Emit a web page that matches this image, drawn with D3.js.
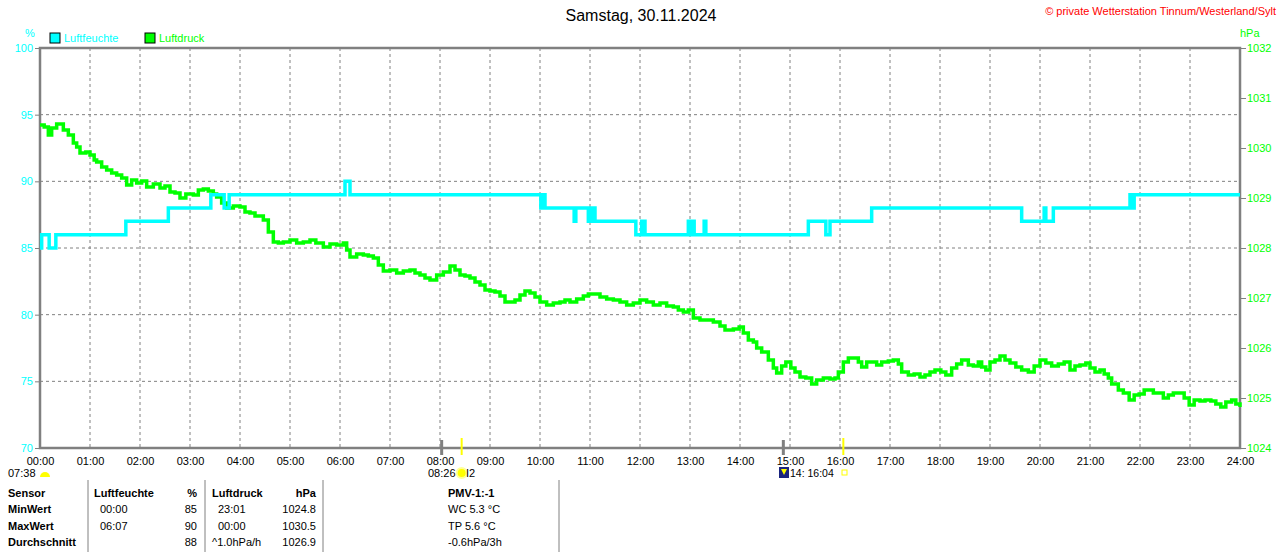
<!DOCTYPE html>
<html>
<head>
<meta charset="utf-8">
<script src="https://cdn.jsdelivr.net/npm/d3@7"></script>
<style>
    body { margin: 0; background: #fff; }
    text { font-family: "Liberation Sans", Arial, sans-serif; }
</style>
</head>
<body>
<svg id="chart" width="1280" height="552"></svg>
<script>

// Zeitachse in Minuten seit Mitternacht
var hourLabels = ["00:00", "01:00", "02:00", "03:00", "04:00", "05:00", "06:00", "07:00", "08:00",
    "09:00", "10:00", "11:00", "12:00", "13:00", "14:00", "15:00", "16:00", "17:00", "18:00",
    "19:00", "20:00", "21:00", "22:00", "23:00", "24:00"];
var humTicks = [70, 75, 80, 85, 90, 95, 100];
var presTicks = [1024, 1025, 1026, 1027, 1028, 1029, 1030, 1031, 1032];

// Luftfeuchte: Stufenwechsel [Minute, %]
var luftfeuchte = [[0, 85], [2, 86], [11, 85], [19, 86], [103, 87], [154, 88], [205, 89], [221, 88],
    [227, 89], [366, 90], [372, 89], [601, 88], [604, 89], [606, 88], [641, 87], [643, 88],
    [658, 87], [660, 88], [662, 87], [664, 88], [666, 87], [715, 86], [722, 87], [726, 86],
    [778, 87], [780, 86], [782, 87], [785, 86], [797, 87], [799, 86], [922, 87], [943, 86],
    [948, 87], [998, 88], [1178, 87], [1205, 88], [1207, 87], [1216, 88], [1308, 89], [1310, 88],
    [1313, 89], [1440, 89]];

// Luftdruck [Minute, hPa]
var luftdruck = [[0, 1030.46], [5, 1030.42], [10, 1030.26], [14, 1030.4], [20, 1030.48], [28, 1030.36],
    [34, 1030.26], [40, 1030.1], [44, 1030.02], [48, 1029.9], [55, 1029.92], [60, 1029.86], [65, 1029.76],
    [68, 1029.72], [74, 1029.62], [80, 1029.56], [86, 1029.5], [92, 1029.46], [98, 1029.4], [104, 1029.26],
    [110, 1029.36], [116, 1029.3], [122, 1029.34], [128, 1029.22], [136, 1029.28], [144, 1029.2],
    [150, 1029.24], [156, 1029.12], [162, 1029.1], [168, 1029.0], [175, 1029.08], [184, 1029.06],
    [190, 1029.16], [196, 1029.18], [202, 1029.14], [208, 1029.08], [212, 1029.02], [218, 1028.9],
    [224, 1028.8], [232, 1028.84], [240, 1028.82], [246, 1028.72], [252, 1028.7], [258, 1028.64],
    [268, 1028.56], [274, 1028.32], [280, 1028.12], [286, 1028.1], [292, 1028.12], [300, 1028.16],
    [308, 1028.1], [316, 1028.12], [324, 1028.16], [331, 1028.1], [340, 1028.02], [348, 1028.08],
    [356, 1028.06], [364, 1028.1], [368, 1027.96], [372, 1027.82], [380, 1027.88], [388, 1027.86],
    [394, 1027.84], [400, 1027.8], [406, 1027.66], [412, 1027.54], [420, 1027.56], [428, 1027.5],
    [436, 1027.54], [444, 1027.56], [450, 1027.5], [456, 1027.46], [462, 1027.4], [468, 1027.36],
    [476, 1027.46], [484, 1027.52], [492, 1027.64], [498, 1027.56], [504, 1027.46], [510, 1027.44],
    [516, 1027.4], [522, 1027.32], [528, 1027.26], [534, 1027.16], [540, 1027.14], [546, 1027.12],
    [552, 1027.04], [558, 1026.92], [564, 1026.92], [570, 1026.96], [576, 1027.06], [582, 1027.14],
    [588, 1027.1], [594, 1027.02], [600, 1026.92], [608, 1026.86], [616, 1026.9], [624, 1026.92],
    [630, 1026.96], [636, 1026.92], [644, 1026.98], [652, 1027.04], [658, 1027.08], [664, 1027.08],
    [672, 1027.02], [680, 1026.98], [688, 1026.96], [696, 1026.92], [704, 1026.86], [712, 1026.9],
    [720, 1026.96], [728, 1026.92], [736, 1026.86], [744, 1026.9], [752, 1026.84], [760, 1026.82],
    [766, 1026.76], [772, 1026.72], [778, 1026.76], [784, 1026.6], [792, 1026.56], [800, 1026.56],
    [808, 1026.52], [816, 1026.44], [822, 1026.36], [832, 1026.38], [839, 1026.42], [844, 1026.3],
    [850, 1026.16], [856, 1026.12], [860, 1026.0], [866, 1025.92], [874, 1025.76], [880, 1025.6],
    [884, 1025.5], [890, 1025.64], [895, 1025.72], [901, 1025.6], [906, 1025.52], [912, 1025.42],
    [919, 1025.4], [926, 1025.28], [932, 1025.36], [940, 1025.4], [948, 1025.38], [954, 1025.4],
    [958, 1025.52], [964, 1025.72], [970, 1025.8], [977, 1025.8], [982, 1025.72], [986, 1025.62],
    [992, 1025.72], [998, 1025.72], [1004, 1025.66], [1010, 1025.72], [1018, 1025.74], [1024, 1025.76],
    [1030, 1025.68], [1034, 1025.52], [1042, 1025.46], [1049, 1025.48], [1056, 1025.42], [1062, 1025.46],
    [1068, 1025.52], [1074, 1025.56], [1081, 1025.52], [1087, 1025.46], [1094, 1025.6], [1100, 1025.68],
    [1106, 1025.76], [1114, 1025.66], [1120, 1025.64], [1126, 1025.72], [1130, 1025.62], [1135, 1025.56],
    [1140, 1025.72], [1146, 1025.76], [1152, 1025.84], [1158, 1025.76], [1164, 1025.7], [1171, 1025.62],
    [1178, 1025.56], [1186, 1025.52], [1193, 1025.64], [1200, 1025.76], [1207, 1025.7], [1214, 1025.64],
    [1222, 1025.68], [1229, 1025.72], [1236, 1025.56], [1242, 1025.64], [1248, 1025.66], [1255, 1025.7],
    [1260, 1025.6], [1266, 1025.52], [1272, 1025.56], [1277, 1025.48], [1282, 1025.4], [1286, 1025.28],
    [1294, 1025.16], [1300, 1025.1], [1307, 1024.96], [1313, 1025.06], [1319, 1025.08], [1325, 1025.16],
    [1330, 1025.16], [1336, 1025.1], [1342, 1025.1], [1348, 1025.0], [1354, 1025.06], [1360, 1025.1],
    [1367, 1025.1], [1373, 1025.0], [1379, 1024.86], [1385, 1024.96], [1392, 1024.94], [1398, 1024.96],
    [1405, 1024.94], [1411, 1024.88], [1417, 1024.82], [1423, 1024.92], [1430, 1024.96], [1435, 1024.88],
    [1440, 1024.82]];

// Sonnen-/Mondzeiten unter der Achse [Minute]
var sunMarks = [506, 964];
var moonMarks = [482, 892];

// Tabelle unten
var tableHeader = ["Sensor", "Luftfeuchte", "%", "Luftdruck", "hPa"];
var rowLabels = ["MinWert", "MaxWert", "Durchschnitt"];
var humTimes = ["00:00", "06:07", ""];
var humValues = ["85", "90", "88"];
var presTimes = ["23:01", "00:00", "^1.0hPa/h"];
var presValues = ["1024.8", "1030.5", "1026.9"];
var pmvLines = ["WC 5.3 °C", "TP 5.6 °C", "-0.6hPa/3h"];

var cyan = "#00ffff", green = "#00ff00", grey = "#808080";

var svg = d3.select("#chart");

var x = d3.scaleLinear().domain([0, 1440]).range([40, 1240]);
var yHum = d3.scaleLinear().domain([70, 100]).range([448, 48]);
var yPres = d3.scaleLinear().domain([1024, 1032]).range([448, 48]);

// Gitter
svg.append("g")
    .selectAll("line")
    .data(hourLabels.slice(1, -1))
    .join("line")
    .attr("x1", function (d, i) { return x((i + 1) * 60); })
    .attr("x2", function (d, i) { return x((i + 1) * 60); })
    .attr("y1", yHum(100))
    .attr("y2", yHum(70))
    .attr("stroke", grey)
    .attr("stroke-dasharray", "3,3");

svg.append("g")
    .selectAll("line")
    .data(humTicks.slice(1, -1))
    .join("line")
    .attr("x1", x(0))
    .attr("x2", x(1440))
    .attr("y1", function (d) { return yHum(d); })
    .attr("y2", function (d) { return yHum(d); })
    .attr("stroke", grey)
    .attr("stroke-dasharray", "3,3");

// Rahmen
svg.append("rect")
    .attr("x", x(0))
    .attr("y", yHum(100))
    .attr("width", x(1440) - x(0))
    .attr("height", yHum(70) - yHum(100))
    .attr("fill", "none")
    .attr("stroke", grey)
    .attr("stroke-width", 2.5);

// Achsen
var leftAxis = svg.append("g")
    .attr("transform", "translate(" + x(0) + ",0)")
    .call(d3.axisLeft(yHum).tickValues(humTicks).tickSize(5).tickPadding(2));

var rightAxis = svg.append("g")
    .attr("transform", "translate(" + x(1440) + ",0)")
    .call(d3.axisRight(yPres).tickValues(presTicks).tickFormat(d3.format("d")).tickSize(6).tickPadding(1));

var bottomAxis = svg.append("g")
    .attr("transform", "translate(0," + yHum(70) + ")")
    .call(d3.axisBottom(x)
        .tickValues(d3.range(hourLabels.length).map(function (i) { return i * 60; }))
        .tickFormat(function (d, i) { return hourLabels[i]; })
        .tickSize(0)
        .tickPadding(9));

[leftAxis, rightAxis, bottomAxis].forEach(function (a) {
    a.select(".domain").remove();
    a.selectAll(".tick line").attr("stroke", grey);
    a.selectAll("text").style("font-size", "11px").style("font-family", "Liberation Sans, Arial, sans-serif");
});
leftAxis.selectAll("text").attr("fill", cyan);
rightAxis.selectAll("text").attr("fill", green);
bottomAxis.selectAll("text").attr("fill", "#000");

// Kurven
var presLine = d3.line()
    .x(function (d) { return x(d[0]); })
    .y(function (d) { return yPres(d[1]); })
    .curve(d3.curveStepAfter);

var humLine = d3.line()
    .x(function (d) { return x(d[0]); })
    .y(function (d) { return yHum(d[1]); })
    .curve(d3.curveStepAfter);

svg.append("path")
    .datum(luftdruck)
    .attr("d", presLine)
    .attr("fill", "none")
    .attr("stroke", green)
    .attr("stroke-width", 3.5);

svg.append("path")
    .datum(luftfeuchte)
    .attr("d", humLine)
    .attr("fill", "none")
    .attr("stroke", cyan)
    .attr("stroke-width", 3.5);

// Marker Sonne / Mond
svg.selectAll(".moon")
    .data(moonMarks)
    .join("line")
    .attr("x1", function (d) { return x(d); })
    .attr("x2", function (d) { return x(d); })
    .attr("y1", 440)
    .attr("y2", 455)
    .attr("stroke", grey)
    .attr("stroke-width", 3);

svg.selectAll(".sun")
    .data(sunMarks)
    .join("line")
    .attr("x1", function (d) { return x(d); })
    .attr("x2", function (d) { return x(d); })
    .attr("y1", 438)
    .attr("y2", 455)
    .attr("stroke", "#ffff00")
    .attr("stroke-width", 2);

var events = svg.append("g").style("font-size", "11px");
events.append("text").attr("x", 8).attr("y", 477).text("07:38");
events.append("path")
    .attr("d", "M40,477 A5,5 0 0,1 50,477 Z")
    .attr("fill", "#ffff00");
events.append("text").attr("x", 428).attr("y", 477).text("08:26");
events.append("circle").attr("cx", x(sunMarks[0])).attr("cy", 473).attr("r", 5)
    .attr("fill", "#ffff00").attr("stroke", "#ffff99").attr("stroke-width", 2);
events.append("text").attr("x", 466).attr("y", 477).text("I2");
events.append("rect").attr("x", 779).attr("y", 467).attr("width", 10).attr("height", 11).attr("fill", "#1a237e");
events.append("path").attr("d", "M781,469 L784,475 L787,469 Z").attr("fill", "#ffff00");
events.append("text").attr("x", 790).attr("y", 477).style("font-size", "10.5px").text("14: 16:04");
events.append("rect").attr("x", 842).attr("y", 470).attr("width", 5).attr("height", 5)
    .attr("fill", "none").attr("stroke", "#ffff00");

// Titel und Legende
svg.append("text")
    .attr("x", 641)
    .attr("y", 21)
    .attr("text-anchor", "middle")
    .style("font-size", "16px")
    .text("Samstag, 30.11.2024");

svg.append("text")
    .attr("x", 1276)
    .attr("y", 15)
    .attr("text-anchor", "end")
    .attr("fill", "#ff0000")
    .style("font-size", "11px")
    .text("© private Wetterstation Tinnum/Westerland/Sylt");

svg.append("text").attr("x", 25).attr("y", 37).attr("fill", cyan).style("font-size", "11px").text("%");
svg.append("text").attr("x", 1240).attr("y", 37).attr("fill", green).style("font-size", "11px").text("hPa");

var legend = [["Luftfeuchte", cyan, 50], ["Luftdruck", green, 145]];
legend.forEach(function (l) {
    svg.append("rect").attr("x", l[2]).attr("y", 33).attr("width", 10).attr("height", 10)
        .attr("fill", l[1]).attr("stroke", "#000").attr("stroke-width", 1);
    svg.append("text").attr("x", l[2] + 14).attr("y", 42).attr("fill", l[1])
        .style("font-size", "11px").text(l[0]);
});

// Tabelle
var table = svg.append("g").style("font-size", "11px");
[88, 205, 323, 559].forEach(function (sx) {
    table.append("line").attr("x1", sx).attr("x2", sx).attr("y1", 480).attr("y2", 552)
        .attr("stroke", grey);
});

var rowY = [497, 513, 530, 546];
var head = table.append("g").style("font-weight", "bold");
head.append("text").attr("x", 8).attr("y", rowY[0]).text(tableHeader[0]);
head.append("text").attr("x", 94).attr("y", rowY[0]).text(tableHeader[1]);
head.append("text").attr("x", 197).attr("y", rowY[0]).attr("text-anchor", "end").text(tableHeader[2]);
head.append("text").attr("x", 212).attr("y", rowY[0]).text(tableHeader[3]);
head.append("text").attr("x", 316).attr("y", rowY[0]).attr("text-anchor", "end").text(tableHeader[4]);
head.append("text").attr("x", 448).attr("y", rowY[0]).text("PMV-1:-1");

rowLabels.forEach(function (r, i) {
    var y = rowY[i + 1];
    table.append("text").attr("x", 8).attr("y", y).style("font-weight", "bold").text(r);
    table.append("text").attr("x", 100).attr("y", y).text(humTimes[i]);
    table.append("text").attr("x", 197).attr("y", y).attr("text-anchor", "end").text(humValues[i]);
    table.append("text").attr("x", i == 2 ? 212 : 218).attr("y", y).text(presTimes[i]);
    table.append("text").attr("x", 316).attr("y", y).attr("text-anchor", "end").text(presValues[i]);
    table.append("text").attr("x", 448).attr("y", y).text(pmvLines[i]);
});

</script>
</body>
</html>
